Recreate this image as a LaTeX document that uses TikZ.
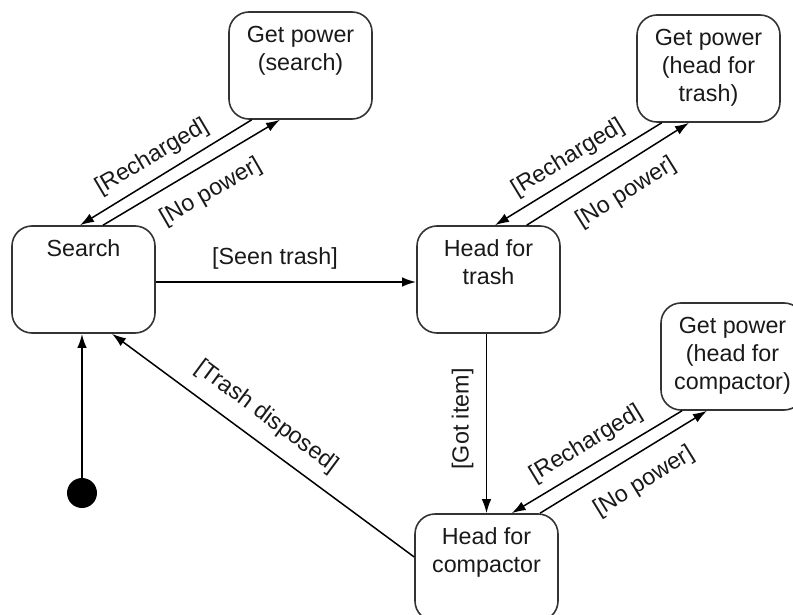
\documentclass[tikz,border=0pt]{standalone}
\usepackage{fontspec}
\setmainfont{Liberation Sans}
\usetikzlibrary{arrows.meta,calc}

\begin{document}
\begin{tikzpicture}[x=1bp,y=-1bp,
  state/.style={draw=black!80, line width=1.6bp, rounded corners=20bp,
    minimum width=143bp, minimum height=107bp, inner sep=0},
  title/.style={anchor=north, inner sep=0, align=center,
    font=\fontsize{23.3bp}{28bp}\selectfont, text=black!90},
  guard/.style={inner sep=0, font=\fontsize{23.3bp}{28bp}\selectfont, text=black!90},
  trans/.style={line width=1.5bp, -{Latex[length=14bp,width=9.5bp]}},
  bold trans/.style={trans, line width=2bp},
]
\clip (0,0) rectangle (793,615);

% states
\node[state] (search) at (83.5,279.5) {};
\node[title] (searchT) at ([yshift=-14.5bp]search.north) {Search};

\node[state] (gps) at (300.5,65.5) {};
\node[title] (gpsT) at ([yshift=-14.5bp]gps.north) {Get power\\(search)};

\node[state] (trash) at (488.5,279.5) {};
\node[title] (trashT) at ([yshift=-14.5bp]trash.north) {Head for\\trash};

\node[state] (gpt) at (708.5,68.5) {};
\node[title] (gptT) at ([yshift=-14.5bp]gpt.north) {Get power\\(head for\\trash)};

\node[state] (gpc) at (732.5,356.5) {};
\node[title] (gpcT) at ([yshift=-14.5bp]gpc.north) {Get power\\(head for\\compactor)};

\node[state] (comp) at (486.5,567.5) {};
\node[title] (compT) at ([yshift=-14.5bp]comp.north) {Head for\\compactor};

% initial pseudo-state
\node[circle, fill=black, minimum size=30bp, inner sep=0] (init) at (82,493) {};

% transitions
\draw[bold trans] (init) -- (init |- search.south);
\draw[bold trans] ([yshift=-2.5bp]search.east) -- ([yshift=-2.5bp]trash.west);
\draw[trans] (trash.south -| comp.north) -- (comp.north);
\draw[trans] ([yshift=10.5bp]comp.west) -- ([xshift=28.5bp]search.south);

\draw[trans] ([xshift=-48.8bp]gps.south) -- ([xshift=-3.5bp]search.north);
\draw[trans] ([xshift=19.5bp]search.north) -- ([xshift=-20.5bp]gps.south);

\draw[trans] ([xshift=-46.8bp]gpt.south) -- ([xshift=6.5bp]trash.north);
\draw[trans] ([xshift=38.2bp]trash.north) -- ([xshift=-19.5bp]gpt.south);

\draw[trans] ([xshift=-50.5bp]gpc.south) -- ([xshift=25.2bp]comp.north);
\draw[trans] ([xshift=53.5bp]comp.north) -- ([xshift=-25.5bp]gpc.south);

% guards
\node[guard, rotate=30.7] (g1) at (152,157) {[Recharged]};
\node[guard, rotate=30] (g2) at (211,192) {[No power]};
\node[guard] (g3) at (275,258) {[Seen trash]};
\node[guard, rotate=31.4] (g4) at (568,158) {[Recharged]};
\node[guard, rotate=32] (g5) at (626,193) {[No power]};
\node[guard, rotate=90] (g6) at (462.5,419) {[Got item]};
\node[guard, rotate=31.2] (g7) at (586,444) {[Recharged]};
\node[guard, rotate=31.7] (g8) at (644,482) {[No power]};
\node[guard, rotate=-36.6] (g9) at (267,417) {[Trash disposed]};
\end{tikzpicture}
\end{document}
